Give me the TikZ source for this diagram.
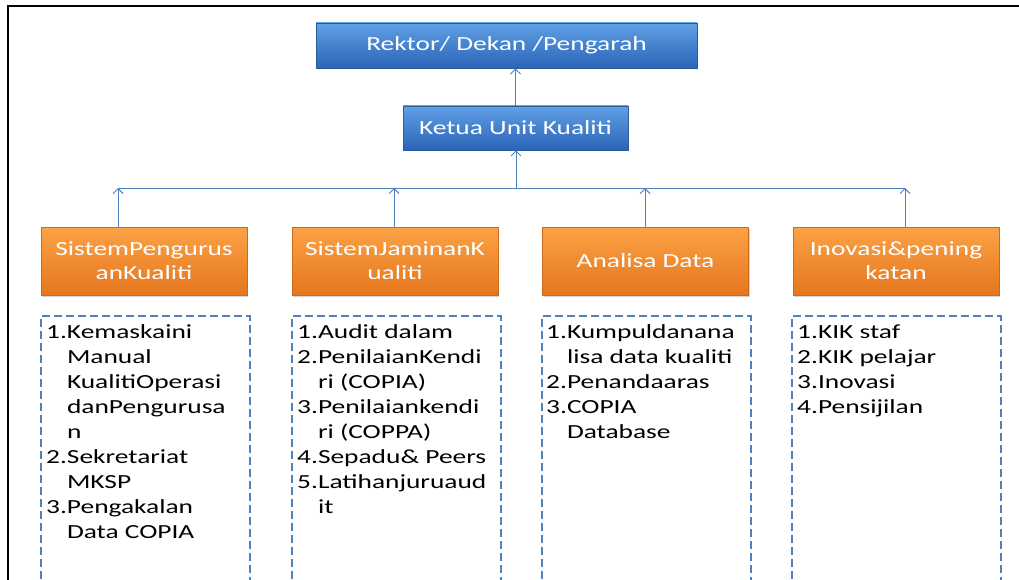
\documentclass[tikz,border=0pt]{standalone}
\usepackage{fontspec}
\setmainfont[FakeStretch=1.37]{Carlito}
\usetikzlibrary{arrows.meta,shadows,calc}
\definecolor{lineblue}{RGB}{79,129,189}
\definecolor{bluetop}{RGB}{96,160,228}
\definecolor{bluebot}{RGB}{42,100,184}
\definecolor{blueedge}{RGB}{45,90,155}
\definecolor{orangetop}{RGB}{252,162,70}
\definecolor{orangebot}{RGB}{228,118,30}
\definecolor{orangeedge}{RGB}{205,105,25}
\begin{document}
\begin{tikzpicture}[x=1pt,y=-1pt,
  font=\fontsize{20}{25}\selectfont,
  bluebox/.style={draw=blueedge, line width=0.8pt, top color=bluetop, bottom color=bluebot,
    text=white, inner sep=0pt, drop shadow={opacity=0.35, shadow xshift=1pt, shadow yshift=-1.5pt}},
  orangebox/.style={draw=orangeedge, line width=0.8pt, top color=orangetop, bottom color=orangebot,
    text=white, inner sep=0pt, align=center, minimum width=206pt, minimum height=68pt,
    font=\fontsize{20}{24}\selectfont,
    drop shadow={opacity=0.35, shadow xshift=1pt, shadow yshift=-1.5pt}},
  dashbox/.style={draw=lineblue, line width=2.4pt, dash pattern=on 8pt off 4pt,
    anchor=north west, minimum width=208.5pt, minimum height=300pt, inner sep=0pt},
  listtext/.style={anchor=base west, inner sep=0pt, text=black},
  conn/.style={draw=lineblue, line width=0.9pt, -{Straight Barb[length=5pt,width=10pt,line width=0.9pt]}},
  busline/.style={draw=lineblue, line width=0.9pt}
]
\useasboundingbox (0,0) rectangle (1019,580);
\clip (0,0) rectangle (1019,580);

% frame
\draw[line width=2pt] (8,581) -- (8,6) -- (1020,6);

% top boxes
\node[bluebox, minimum width=381pt, minimum height=45pt] (rektor) at (506.5,45.5) {Rektor/ Dekan /Pengarah};
\node[bluebox, minimum width=225pt, minimum height=44pt] (ketua) at (515.5,128) {Ketua Unit Kualiti};

% orange boxes
\node[orangebox] (o1) at (144,261) {SistemPengurus\\anKualiti};
\node[orangebox] (o2) at (395,261) {SistemJaminanK\\ualiti};
\node[orangebox] (o3) at (645.5,261) {Analisa Data};
\node[orangebox] (o4) at (896,261) {Inovasi\&pening\\katan};

% bus coordinates
\coordinate (b1) at (118,188);
\coordinate (b2) at (394,188);
\coordinate (b3) at (645,188);
\coordinate (b4) at (905,188);
\coordinate (bk) at (516,188);

\draw[busline] (b1) -- (b4);
\draw[conn] (b1 |- o1.north) -- (b1);
\draw[conn] (b2 |- o2.north) -- (b2);
\draw[conn] (b3 |- o3.north) -- (b3);
\draw[conn] (b4 |- o4.north) -- (b4);
\draw[conn] (bk) -- (bk |- ketua.south);
\draw[conn] (ketua.north) -- (ketua.north |- rektor.south);

% dashed boxes
\node[dashbox] (d1) at (40,315) {};
\node[dashbox] (d2) at (291,315) {};
\node[dashbox] (d3) at (541,315) {};
\node[dashbox] (d4) at (791,315) {};

\node[listtext] (t1) at (46,338) {\begin{tabular}[t]{@{}l@{}l@{}}
1.&Kemaskaini\\
&Manual\\
&KualitiOperasi\\
&danPengurusa\\
&n\\
2.&Sekretariat\\
&MKSP\\
3.&Pengakalan\\
&Data COPIA
\end{tabular}};

\node[listtext] (t2) at (297,338) {\begin{tabular}[t]{@{}l@{}l@{}}
1.&Audit dalam\\
2.&PenilaianKendi\\
&ri (COPIA)\\
3.&Penilaiankendi\\
&ri (COPPA)\\
4.&Sepadu\& Peers\\
5.&Latihanjuruaud\\
&it
\end{tabular}};

\node[listtext] (t3) at (546,338) {\begin{tabular}[t]{@{}l@{}l@{}}
1.&Kumpuldanana\\
&lisa data kualiti\\
2.&Penandaaras\\
3.&COPIA\\
&Database
\end{tabular}};

\node[listtext] (t4) at (797,338) {\begin{tabular}[t]{@{}l@{}l@{}}
1.&KIK staf\\
2.&KIK pelajar\\
3.&Inovasi\\
4.&Pensijilan
\end{tabular}};
\end{tikzpicture}
\end{document}
